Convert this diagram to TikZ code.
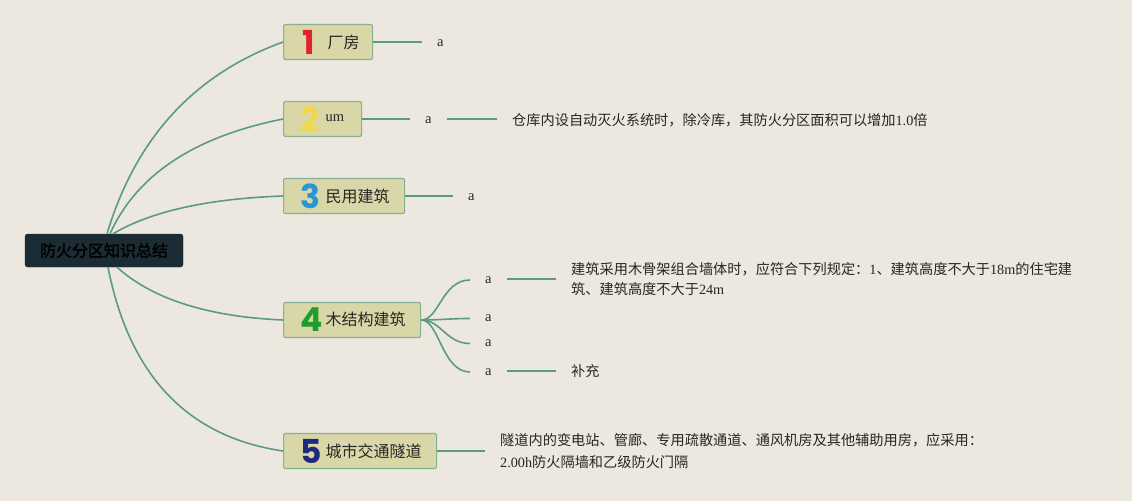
\documentclass[tikz,border=0pt]{standalone}
\usepackage{fontspec}
\setmainfont{Liberation Serif}
\newfontfamily\cjk{Noto Sans CJK SC}
\newfontfamily\cjkbold{Noto Sans CJK SC}[FakeBold=2]
\newfontfamily\numfont{Poppins}
\definecolor{bgcol}{HTML}{ECE8E0}
\definecolor{boxfill}{HTML}{D9D7A7}
\definecolor{boxline}{HTML}{88B096}
\definecolor{linkcol}{HTML}{5B9A83}
\definecolor{rootfill}{HTML}{1C2C35}
\definecolor{numred}{HTML}{E2202E}
\definecolor{numyellow}{HTML}{F4D64C}
\definecolor{numblue}{HTML}{2696D6}
\definecolor{numgreen}{HTML}{1E9E2C}
\definecolor{numnavy}{HTML}{1F2A78}
\newcommand{\bnum}[2]{\makebox[25pt][l]{\raisebox{-6pt}{\numfont\bfseries\fontsize{33}{33}\selectfont\color{#1}#2}}}
\newcommand{\zh}[1]{{\cjk #1}}
\begin{document}
\begin{tikzpicture}[x=1pt,y=-1pt,
  link/.style={draw=linkcol, line width=1.6pt},
  rootbox/.style={fill=rootfill, draw=rootfill, rounded corners=2.5pt, minimum width=158pt, minimum height=33pt, inner sep=0pt, font=\cjkbold\fontsize{16}{18}\selectfont, text=black},
  branchbox/.style={fill=boxfill, draw=boxline, line width=1.2pt, rounded corners=2pt, minimum height=35pt, inner sep=0pt, anchor=west, align=left, font=\cjk\fontsize{16}{18}\selectfont, text=black!85},
  leafa/.style={inner xsep=15pt, inner ysep=2pt, anchor=west, font=\fontsize{14.5}{16}\selectfont, text=black!85},
  note/.style={inner xsep=15pt, inner ysep=2pt, anchor=west, align=left, font=\fontsize{14.2}{20}\selectfont, text=black!85}]
\fill[bgcol] (0,0) rectangle (1132,501);
\useasboundingbox (0,0) rectangle (1132,501);

\node[rootbox] (root) at (104,250.5) {防火分区知识总结};

\node[branchbox, text width=89pt] (b1) at (283,42) {\hspace*{19pt}\bnum{numred}{1}厂房};
\node[branchbox, text width=78pt] (b2) at (283,119) {\hspace*{17pt}\bnum{numyellow}{2}\raisebox{4pt}{\rmfamily\fontsize{14.5}{16}\selectfont um}};
\node[branchbox, text width=121pt] (b3) at (283,196) {\hspace*{17pt}\bnum{numblue}{3}民用建筑};
\node[branchbox, text width=137pt] (b4) at (283,320) {\hspace*{17pt}\bnum{numgreen}{4}木结构建筑};
\node[branchbox, text width=153pt] (b5) at (283,451) {\hspace*{17pt}\bnum{numnavy}{5}城市交通隧道};

\draw[link] ([xshift=3pt]root.north) .. controls (135.7,138) and (194.3,74.3) .. (b1.west);
\draw[link] ([xshift=6pt]root.north) .. controls (136.7,174.7) and (194.3,136.7) .. (b2.west);
\draw[link] ([xshift=9pt]root.north) .. controls (151,211.3) and (207.7,198.7) .. (b3.west);
\draw[link] ([xshift=13pt]root.south) .. controls (152.3,299) and (207.7,316.7) .. (b4.west);
\draw[link] ([xshift=4pt]root.south) .. controls (129.3,375.7) and (187.7,437) .. (b5.west);

% branch 1
\node[leafa] (a1) at (422,43) {a};
\draw[link] (b1.east) -- (b1.east -| a1.west);

% branch 2
\node[leafa] (a2) at (410,120.5) {a};
\node[note] (n2) at (497,120) {\zh{仓库内设自动灭火系统时，除冷库，其防火分区面积可以增加}1.0\zh{倍}};
\draw[link] (b2.east) -- (b2.east -| a2.west);
\draw[link] (b2.east -| a2.east) -- (b2.east -| n2.west);

% branch 3
\node[leafa] (a3) at (453,197) {a};
\draw[link] (b3.east) -- (b3.east -| a3.west);

% branch 4
\node[leafa] (a41) at (470,280) {a};
\node[leafa] (a42) at (470,318.5) {a};
\node[leafa] (a43) at (470,343.5) {a};
\node[leafa] (a44) at (470,372) {a};
\draw[link] (b4.east) .. controls +(18,0) and +(-28,0) .. (a41.west);
\draw[link] (b4.east) .. controls +(20,0) and +(-20,0) .. (a42.west);
\draw[link] (b4.east) .. controls +(20,0) and +(-24,0) .. (a43.west);
\draw[link] (b4.east) .. controls +(18,0) and +(-28,0) .. (a44.west);
\node[note] (n41) at (556,279) {\zh{建筑采用木骨架组合墙体时，应符合下列规定：}1\zh{、建筑高度不大于}18m\zh{的住宅建}\\\zh{筑、建筑高度不大于}24m};
\node[note] (n44) at (556,371) {\zh{补充}};
\draw[link] (a41.east |- n41.west) -- (n41.west);
\draw[link] (a44.east |- n44.west) -- (n44.west);

% branch 5
\node[note, font=\fontsize{14.2}{22}\selectfont] (n5) at (485,451) {\zh{隧道内的变电站、管廊、专用疏散通道、通风机房及其他辅助用房，应采用：}\\2.00h\zh{防火隔墙和乙级防火门隔}};
\draw[link] (b5.east) -- (b5.east -| n5.west);
\end{tikzpicture}
\end{document}
